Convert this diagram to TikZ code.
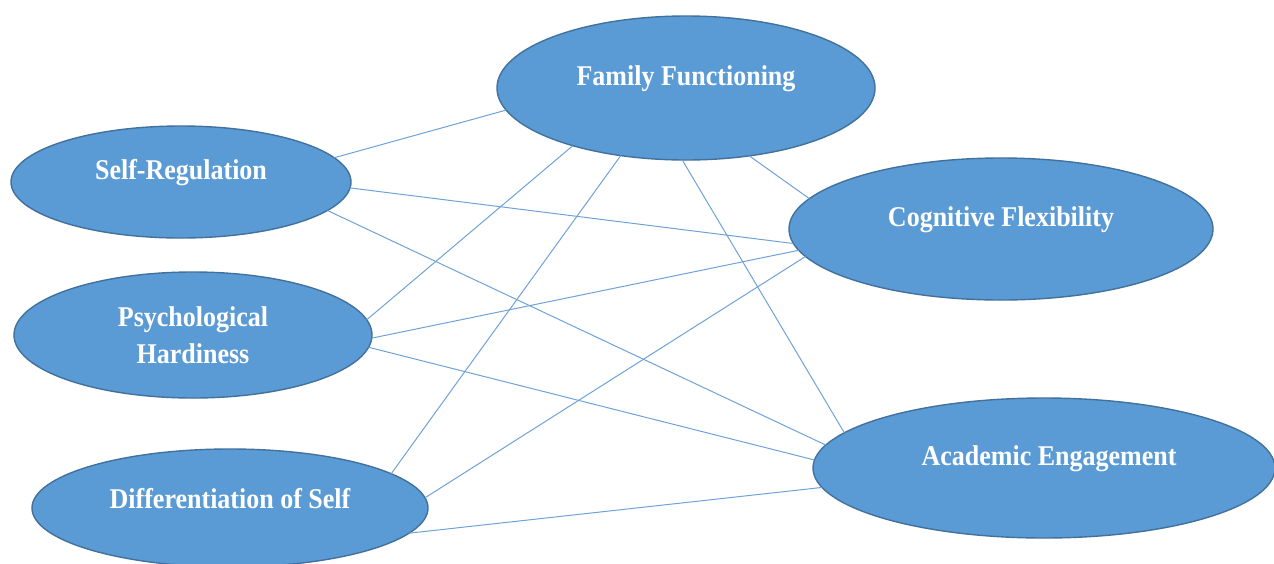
\documentclass[tikz,border=0pt]{standalone}
\usepackage{fontspec}
\usepackage{graphicx}
\setmainfont{Liberation Serif}
\usetikzlibrary{shapes.geometric}
\definecolor{fillblue}{HTML}{5B9BD5}
\definecolor{edgeblue}{HTML}{41719C}
\definecolor{lineblue}{HTML}{6FA3D8}
\newcommand{\tx}[1]{\scalebox{1}[1.1]{#1}}
\newcommand{\upt}[1]{\raisebox{9pt}[\height][\depth]{\tx{#1}}}
\begin{document}
\begin{tikzpicture}[x=1pt,y=-1pt,
  ell/.style={ellipse, draw=edgeblue, line width=1.4pt, fill=fillblue, inner sep=0pt, outer sep=0pt,
    text=white, font=\fontsize{26}{37}\selectfont\bfseries, align=center},
  link/.style={draw=lineblue, line width=1pt}]
\useasboundingbox (0,0) rectangle (1274,563);
\clip (0,0) rectangle (1274,563);
\fill[white] (0,0) rectangle (1274,563);

\node[ell, minimum width=378pt, minimum height=144pt] (ff) at (686,88) {\upt{Family Functioning}};
\node[ell, minimum width=340pt, minimum height=112pt] (sr) at (181,182) {\upt{Self-Regulation}};
\node[ell, minimum width=424pt, minimum height=142pt] (cf) at (1001,229) {\upt{Cognitive Flexibility}};
\node[ell, minimum width=358pt, minimum height=126pt] (ph) at (193,335) {\tx{Psychological}\\\tx{Hardiness}};
\node[ell, minimum width=462pt, minimum height=140pt] (ae) at (1044,468) {\upt{\hspace{10pt}Academic Engagement}};
\node[ell, minimum width=396pt, minimum height=118pt] (ds) at (230,508) {\upt{Differentiation of Self}};

\draw[link] (sr.9.2) -- (ff.187.7);
\draw[link] (sr.358) -- (cf.184.4);
\draw[link] (sr.349.9) -- (ae.174.9);
\draw[link] (ff.207.2) -- (ph.5.3);
\draw[link] (ff.226.3) -- (ds.12.6);
\draw[link] (ff.267.6) -- (ae.170.9);
\draw[link] (ff.313.7) -- (cf.171.6);
\draw[link] (ph.359.4) -- (cf.186.7);
\draw[link] (ph.356.8) -- (ae.178.8);
\draw[link] (ds.3.9) -- (cf.188);
\draw[link] (ds.352.2) -- (ae.185.7);
\end{tikzpicture}
\end{document}
